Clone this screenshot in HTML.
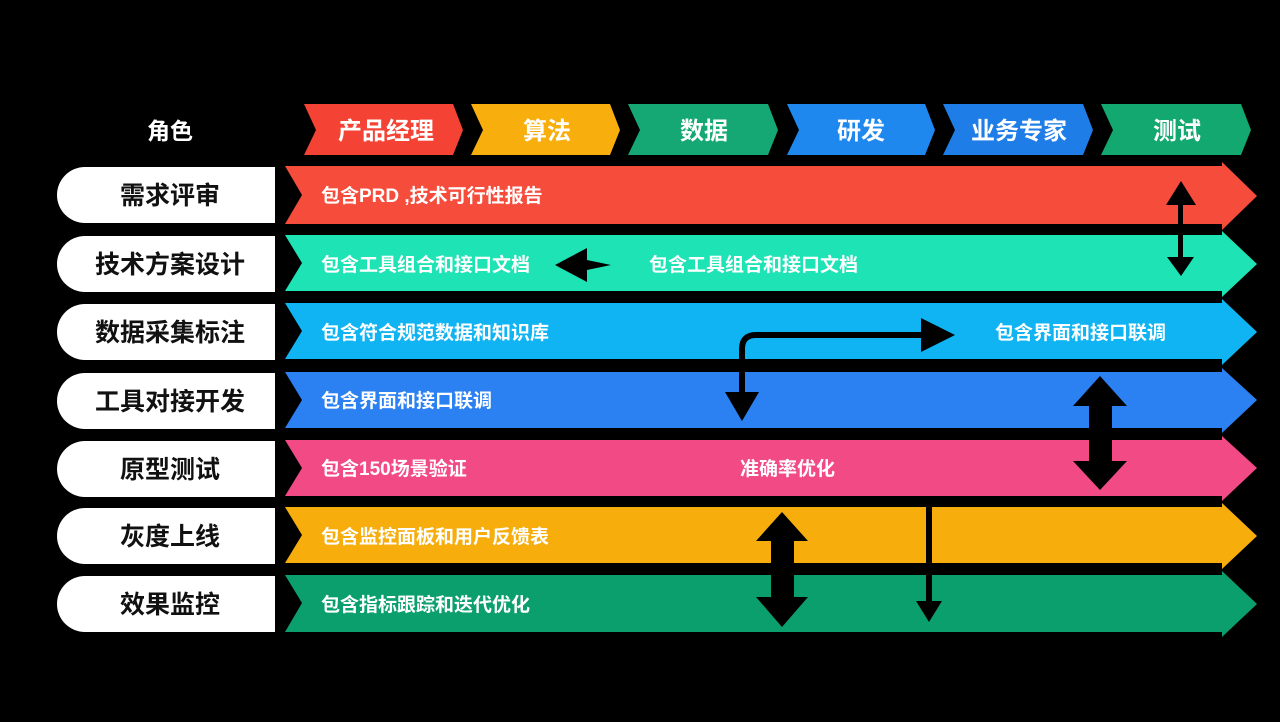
<!DOCTYPE html>
<html><head><meta charset="utf-8"><style>
html,body{margin:0;padding:0;background:#000;width:1280px;height:722px;overflow:hidden}
svg{display:block}
text{font-family:"Liberation Sans","Noto Sans CJK SC",sans-serif;font-weight:bold}
</style></head><body>
<svg width="1280" height="722" viewBox="0 0 1280 722" xmlns="http://www.w3.org/2000/svg">
<rect width="1280" height="722" fill="#000"/>
<text x="170" y="139" fill="#fff" font-size="23" text-anchor="middle">角色</text>
<g font-size="24" fill="#fff" text-anchor="middle">
<polygon points="304,104 453,104 463,130 453,155 304,155 316,130" fill="#f44234"/>
<text x="386" y="139">产品经理</text>
<polygon points="471,104 610,104 620,130 610,155 471,155 483,130" fill="#f8ae0c"/>
<text x="547" y="139">算法</text>
<polygon points="628,104 768,104 778,130 768,155 628,155 640,130" fill="#16a874"/>
<text x="704" y="139">数据</text>
<polygon points="787,104 925,104 935,130 925,155 787,155 799,130" fill="#1e88ee"/>
<text x="861" y="139">研发</text>
<polygon points="943,104 1083,104 1093,130 1083,155 943,155 955,130" fill="#1f7de8"/>
<text x="1019" y="139">业务专家</text>
<polygon points="1101,104 1241,104 1251,130 1241,155 1101,155 1113,130" fill="#12a870"/>
<text x="1177" y="139">测试</text>
</g>
<g font-size="19" fill="#fff">
<polygon points="285,166 1222,166 1222,162 1257,196 1222,230 1222,224 285,224 302,195" fill="#f54c3c"/>
<polygon points="285,235 1222,235 1222,231 1257,264 1222,297 1222,291 285,291 302,263" fill="#1de3b5"/>
<polygon points="285,303 1222,303 1222,299 1257,332 1222,365 1222,359 285,359 302,331" fill="#10b4f2"/>
<polygon points="285,372 1222,372 1222,368 1257,400 1222,433 1222,428 285,428 302,400" fill="#2b80f2"/>
<polygon points="285,440 1222,440 1222,436 1257,468 1222,501 1222,496 285,496 302,468" fill="#f14a85"/>
<polygon points="285,507 1222,507 1222,503 1257,536 1222,569 1222,563 285,563 302,535" fill="#f7ae0c"/>
<polygon points="285,575 1222,575 1222,571 1257,604 1222,637 1222,632 285,632 302,603" fill="#0c9f6e"/>
<text x="321" y="202">包含PRD ,技术可行性报告</text>
<text x="321" y="271">包含工具组合和接口文档</text>
<text x="649" y="271">包含工具组合和接口文档</text>
<text x="321" y="339">包含符合规范数据和知识库</text>
<text x="995" y="339">包含界面和接口联调</text>
<text x="321" y="407">包含界面和接口联调</text>
<text x="321" y="475">包含150场景验证</text>
<text x="740" y="475">准确率优化</text>
<text x="321" y="543">包含监控面板和用户反馈表</text>
<text x="321" y="611">包含指标跟踪和迭代优化</text>
</g>
<g font-size="25" fill="#111" text-anchor="middle">
<path d="M275,167 H85 A28,28 0 0 0 85,223 H275 Z" fill="#fff"/><text x="170" y="204">需求评审</text>
<path d="M275,236 H85 A28,28 0 0 0 85,292 H275 Z" fill="#fff"/><text x="170" y="273">技术方案设计</text>
<path d="M275,304 H85 A28,28 0 0 0 85,360 H275 Z" fill="#fff"/><text x="170" y="341">数据采集标注</text>
<path d="M275,373 H85 A28,28 0 0 0 85,429 H275 Z" fill="#fff"/><text x="170" y="410">工具对接开发</text>
<path d="M275,441 H85 A28,28 0 0 0 85,497 H275 Z" fill="#fff"/><text x="170" y="478">原型测试</text>
<path d="M275,508 H85 A28,28 0 0 0 85,564 H275 Z" fill="#fff"/><text x="170" y="545">灰度上线</text>
<path d="M275,576 H85 A28,28 0 0 0 85,632 H275 Z" fill="#fff"/><text x="170" y="613">效果监控</text>
</g>
<g fill="#000" stroke="none">
<rect x="1178" y="200" width="5" height="60"/>
<polygon points="1181,181 1196,205 1166,205"/>
<polygon points="1181,276 1194,257 1167,257"/>
<polygon points="555,265 587,248 587,260 611,265 587,270 587,282"/>
<path d="M742,395 V349 Q742,335 756,335 H925" fill="none" stroke="#000" stroke-width="6"/>
<polygon points="921,318 955,335 921,352"/>
<polygon points="725,392 759,392 742,421"/>
<rect x="1089" y="400" width="23" height="66"/>
<polygon points="1100,376 1127,406 1073,406"/>
<polygon points="1100,490 1127,461 1073,461"/>
<rect x="771" y="535" width="23" height="68"/>
<polygon points="782,512 808,541 756,541"/>
<polygon points="782,627 808,597 756,597"/>
<rect x="926" y="505" width="6" height="100"/>
<polygon points="916,601 942,601 929,622"/>
</g>
</svg>
</body></html>
